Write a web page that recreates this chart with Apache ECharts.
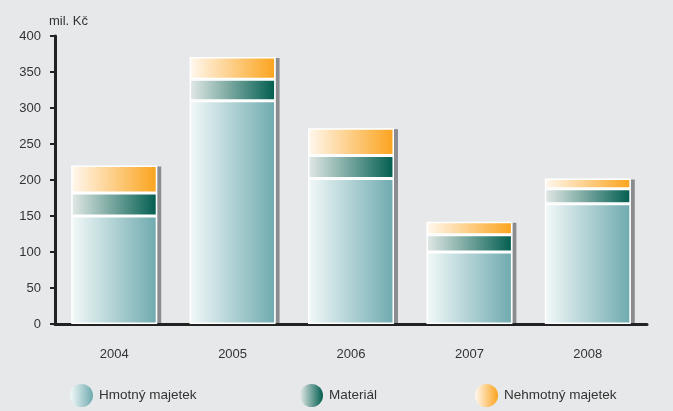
<!DOCTYPE html>
<html><head><meta charset="utf-8">
<script src="https://cdn.jsdelivr.net/npm/echarts@6/dist/echarts.min.js"></script>
<style>html,body{margin:0;padding:0;background:#e7e8ea}#c{width:673px;height:411px}</style>
</head><body><div id="c"></div>
<script>
const years = ['2004','2005','2006','2007','2008'];
const hmotny = [150, 310, 202, 100, 167];
const material = [32, 30, 32, 24, 21];
const nehmotny = [38, 31, 38, 18, 14];
const yTicks = [0, 50, 100, 150, 200, 250, 300, 350, 400];
const names = ['Hmotný majetek', 'Materiál', 'Nehmotný majetek'];

const FONT = '"Liberation Sans", Arial, sans-serif';
function grad(a, b) {
  return new echarts.graphic.LinearGradient(0, 0, 1, 0, [{offset: 0, color: a}, {offset: 1, color: b}]);
}
const colH = grad('#f3f9f9', '#6eaaaf');
const colM = grad('#e3e9e7', '#005d4f');
const colN = grad('#fff8ef', '#fba31c');

const totals = years.map((y, i) => hmotny[i] + material[i] + nehmotny[i]);

const chart = echarts.init(document.getElementById('c'), null, {renderer: 'canvas'});
const barW = 86;
function barSeries(name, data, color) {
  return {
    name, type: 'bar', stack: 'a', data, barWidth: barW,
    itemStyle: {color, borderColor: '#ffffff', borderWidth: 1.5},
    emphasis: {disabled: true}, animation: false
  };
}
chart.setOption({
  backgroundColor: '#e7e8ea',
  animation: false,
  textStyle: {fontFamily: FONT},
  grid: {left: 55, right: 26, top: 36, bottom: 87, containLabel: false},
  xAxis: {type: 'category', data: years, boundaryGap: true,
     axisLine: {lineStyle: {color: '#222', width: 3}}, axisTick: {show: false},
     axisLabel: {color: '#333', fontSize: 13, fontFamily: FONT, margin: 24}},
  yAxis: {type: 'value', min: 0, max: 400, interval: 50,
     name: 'mil. Kč', nameLocation: 'end', nameGap: 8,
     nameTextStyle: {color: '#333', fontSize: 13, fontFamily: FONT, align: 'left', padding: [0, 0, 0, -6]},
     splitLine: {show: false},
     axisLine: {show: true, lineStyle: {color: '#222', width: 3}},
     axisTick: {show: true, inside: false, length: 5, lineStyle: {color: '#222', width: 2}},
     axisLabel: {color: '#333', fontSize: 13, fontFamily: FONT, margin: 14,
                 formatter: v => yTicks.includes(v) ? String(v) : ''}},
  legend: [
    {data: [names[0]], left: 70, top: 384},
    {data: [names[1]], left: 300, top: 384},
    {data: [names[2]], left: 475, top: 384}
  ].map(l => Object.assign(l, {icon: 'circle', itemWidth: 23, itemHeight: 23, itemGap: 8,
     itemStyle: {borderWidth: 0},
     textStyle: {color: '#333', fontSize: 13.5, fontFamily: FONT, padding: [2, 0, 0, 1]}, selectedMode: false, padding: 0})),
  series: [
    barSeries(names[0], hmotny, colH),
    barSeries(names[1], material, colM),
    barSeries(names[2], nehmotny, colN),
    {
      type: 'custom', silent: true,
      data: years.map((y, i) => [i, totals[i]]),
      renderItem: function (params, api) {
        const top = api.coord([api.value(0), api.value(1)]);
        const base = api.coord([api.value(0), 0]);
        return {
          type: 'rect',
          shape: {x: top[0] + barW / 2, y: top[1] + 1, width: 4, height: base[1] - top[1] - 2},
          style: {fill: '#8b8c8f'}
        };
      },
      z: 1
    }
  ]
});
</script></body></html>
